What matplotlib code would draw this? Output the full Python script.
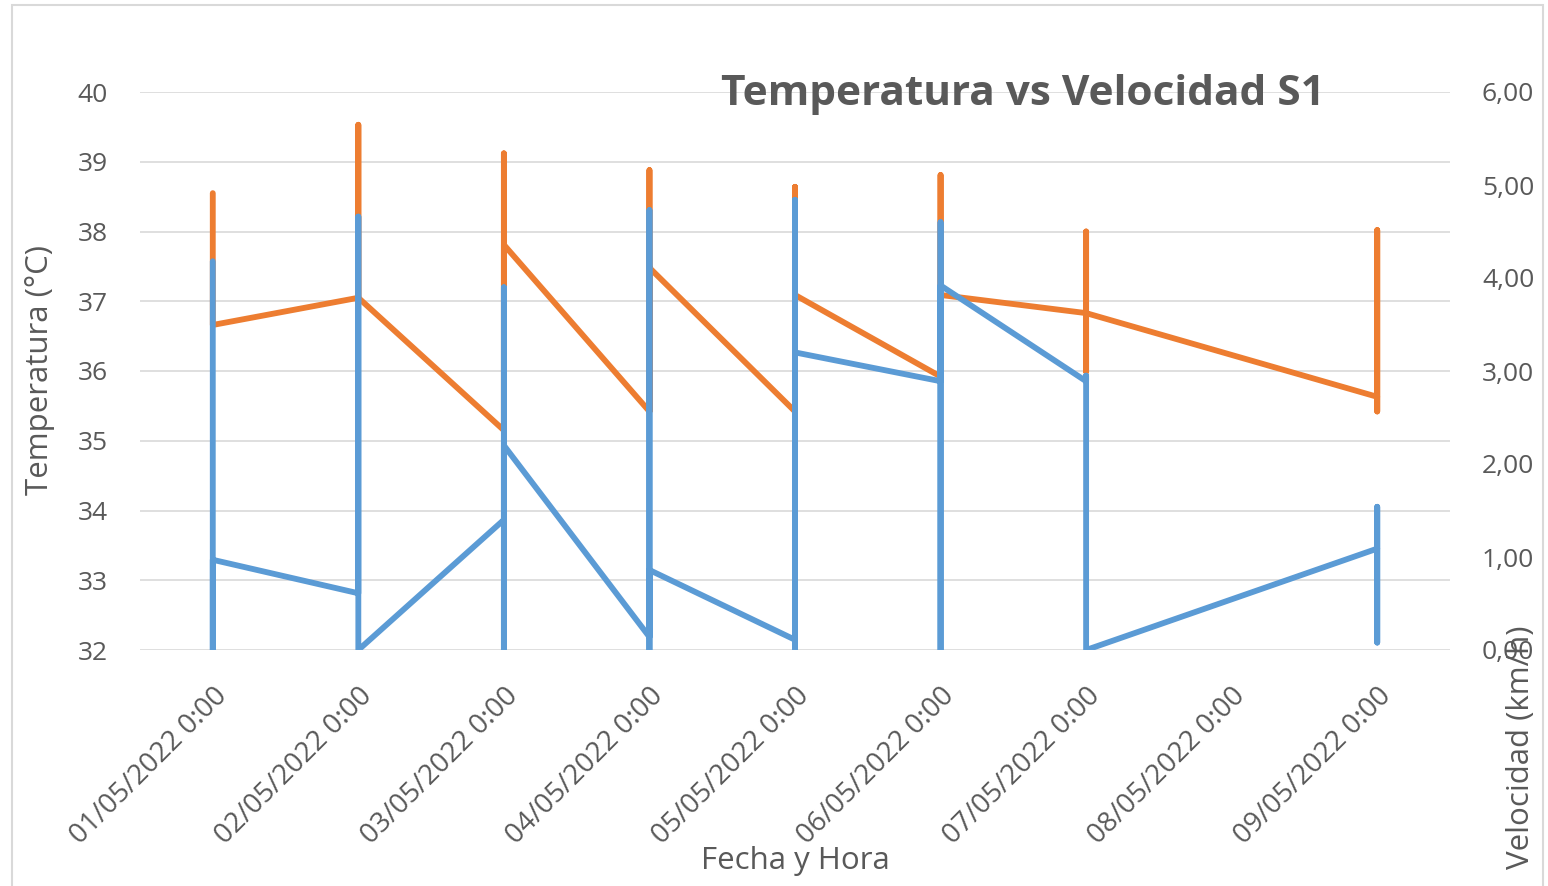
import numpy as np
import matplotlib
matplotlib.use("Agg")
import matplotlib.pyplot as plt
from matplotlib.patches import Rectangle
from matplotlib.ticker import FuncFormatter

plt.rcParams['font.family'] = ['Open Sans', 'DejaVu Sans']

# ---- data ----
dates = ["01/05/2022 0:00", "02/05/2022 0:00", "03/05/2022 0:00", "04/05/2022 0:00",
         "05/05/2022 0:00", "06/05/2022 0:00", "07/05/2022 0:00", "08/05/2022 0:00",
         "09/05/2022 0:00"]

nan = np.nan
# Temperatura (°C): first / max / min / last reading of each day
temp_first = [38.55, 37.05, 35.15, 35.42, 35.42, 35.92, 36.83, nan, 35.63]
temp_max   = [38.55, 39.53, 39.12, 38.88, 38.64, 38.81, 38.00, nan, 38.02]
temp_min   = [36.66, 37.05, 35.15, 35.42, 35.42, 35.92, 35.99, nan, 35.42]
temp_last  = [36.66, 37.05, 37.81, 37.48, 37.09, 37.09, 36.83, nan, 35.63]

# Velocidad (km/h): first / max / min / last reading of each day
vel_first = [4.18, 0.61, 1.40, 0.14, 0.11, 2.89, 2.89, nan, 1.09]
vel_max   = [4.18, 4.66, 3.90, 4.73, 4.84, 4.60, 2.95, nan, 1.54]
vel_min   = [0.00, 0.00, 0.00, 0.00, 0.00, 0.00, 0.00, nan, 0.08]
vel_last  = [0.97, 0.00, 2.20, 0.86, 3.20, 3.92, 0.00, nan, 1.09]

temp_ticks = [32, 33, 34, 35, 36, 37, 38, 39, 40]
vel_ticks = [0, 1, 2, 3, 4, 5, 6]


def build_path(first, vmax, vmin, last):
    xs, ys = [], []
    for i in range(len(first)):
        if np.isnan(first[i]):
            continue
        for v in (first[i], vmax[i], vmin[i], last[i]):
            xs.append(i)
            ys.append(v)
    return xs, ys


W, H = 1548, 886
fig = plt.figure(figsize=(W / 100, H / 100), dpi=100)
fig.patch.set_facecolor('white')

left, right, top, bottom = 140, 1450, 92, 650
ax = fig.add_axes([left / W, 1 - bottom / H, (right - left) / W, (bottom - top) / H])
ax2 = ax.twinx()

TXT = '#595959'
ORANGE = '#ED7D31'
BLUE = '#5B9BD5'
GRID = '#D9D9D9'

tx, ty = build_path(temp_first, temp_max, temp_min, temp_last)
vx, vy = build_path(vel_first, vel_max, vel_min, vel_last)

ax.plot(tx, ty, color=ORANGE, lw=4.2, solid_capstyle='round', solid_joinstyle='round', zorder=3)
ax2.plot(vx, vy, color=BLUE, lw=4.2, solid_capstyle='round', solid_joinstyle='round', zorder=3)

ax.set_xlim(-0.5, 8.5)
ax.set_ylim(32, 40)
ax2.set_ylim(0, 6)

ax.set_yticks(temp_ticks)
ax2.set_yticks(vel_ticks)
ax2.yaxis.set_major_formatter(FuncFormatter(lambda v, p: f"{v:.2f}".replace('.', ',')))

ax.set_xticks(range(len(dates)))
ax.set_xticklabels(dates, rotation=45, ha='right', va='top', rotation_mode='anchor')

ax.grid(axis='y', color=GRID, lw=1.2)
ax.set_axisbelow(True)

for a in (ax, ax2):
    for s in a.spines.values():
        s.set_visible(False)
    a.tick_params(length=0, colors=TXT, labelsize=19)
ax.tick_params(axis='x', labelsize=20, pad=23)
ax.tick_params(axis='y', pad=23)
ax2.tick_params(axis='y', pad=23)

# Axis titles
fig.text(40 / W, 1 - 370 / H, 'Temperatura (°C)', fontsize=22.5, color=TXT,
         ha='center', va='center', rotation=90)
fig.text(795 / W, 1 - 861 / H, 'Fecha y Hora', fontsize=22.5, color=TXT,
         ha='center', va='center')
fig.text(1521 / W, 1 - 747 / H, 'Velocidad (km/h)', fontsize=22.5, color=TXT,
         ha='center', va='center', rotation=90)

# Title
fig.text(1023 / W, 1 - 105 / H, 'Temperatura vs Velocidad S1', fontsize=30.5,
         fontweight='bold', color=TXT, ha='center', va='baseline')

# Chart border
fig.patches.append(Rectangle((11.5 / W, -0.01), (1542.5 - 11.5) / W, 1 - 5 / H + 0.01,
                             transform=fig.transFigure, fill=False,
                             edgecolor=GRID, lw=1.5))

fig.savefig('out.png', dpi=100)
